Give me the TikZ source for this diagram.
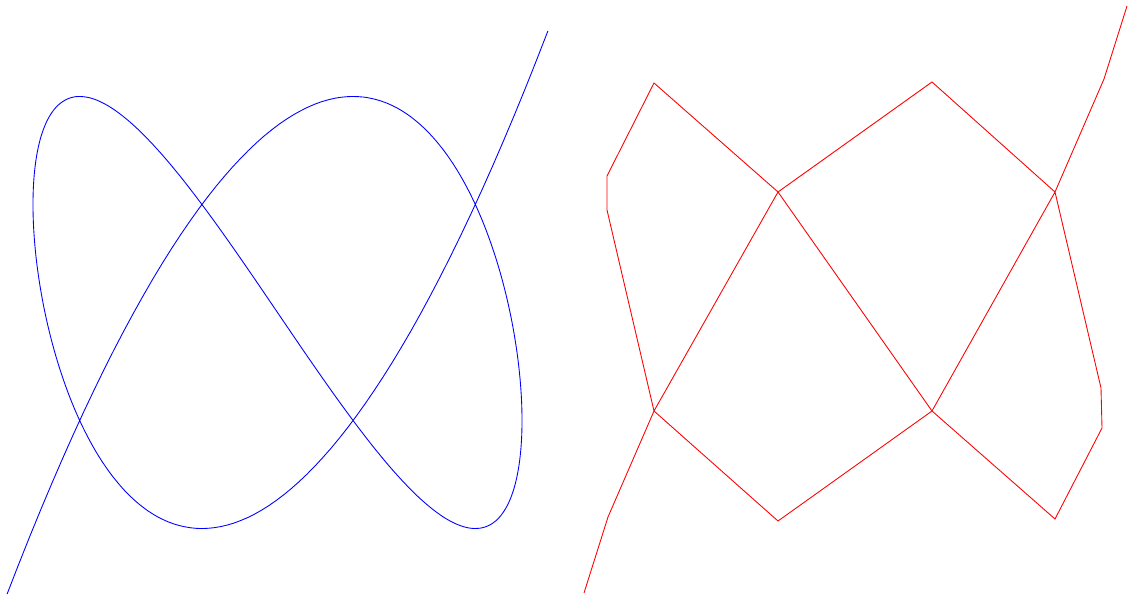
\documentclass[tikz,border=0pt]{standalone}
\usepackage{tikz}

\begin{document}
\begin{tikzpicture}[x=0.02cm, y=-0.02cm,
    declare function={tt(\k)=1.0116*(\k/200-1);
      chx(\u)=277.5+244.5*(4*\u^3-3*\u);
      chy(\u)=312.5-216*(16*\u^5-20*\u^3+5*\u);}]
  \tikzstyle{smoothline}=[blue, line width=0.5pt, line join=round]
  \tikzstyle{sharpline}=[red, line width=0.5pt, line join=miter]
  \useasboundingbox (0,0) rectangle (1129,597);
  % smooth version: (T3(t), T5(t))
  \draw[smoothline] plot[domain=0:400, samples=401, variable=\k]
    ({chx(tt(\k))}, {chy(tt(\k))});
  % sharp version
  \draw[sharpline] plot coordinates {
    (584,593) (608,517) (654,411) (778,192) (932,82) (1055,192) (1101,388)
    (1102,428) (1055,519) (932,411) (778,192) (654,83) (607,176) (607,210)
    (654,411) (778,521) (932,411) (1055,192) (1104,79) (1127,6)};
\end{tikzpicture}
\end{document}
